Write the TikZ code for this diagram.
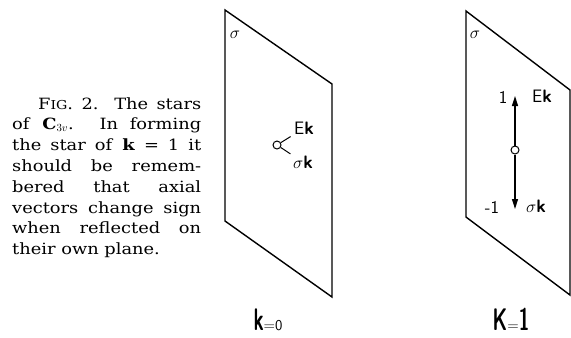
\documentclass[tikz,border=0pt]{standalone}
\usepackage{fontspec}
\usepackage{graphicx}
\newfontfamily\capfont[FakeStretch=1.15]{DejaVu Serif}
\usetikzlibrary{arrows.meta}
\begin{document}
\begin{tikzpicture}[x=1bp,y=-1bp,
  plane/.style={draw, line width=1.4bp, line join=miter},
  hand/.style={font=\sffamily\fontsize{18bp}{18bp}\selectfont, inner sep=0pt},
  sig/.style={font=\fontsize{17bp}{17bp}\selectfont, inner sep=0pt},
  origin/.style={draw, circle, line width=1bp, minimum size=8bp, inner sep=0pt, fill=white},
  vec/.style={line width=1.3bp, -{Triangle[length=10bp,width=6bp]}},
  tick/.style={line width=1bp},
  big/.style={inner sep=0pt, anchor=base}
]
\useasboundingbox (0,0) rectangle (571,337);
% caption
\node[anchor=base west, inner sep=0pt] (cap) at (12,109) {\parbox[t]{189bp}{\capfont\fontsize{15.5bp}{20.8bp}\selectfont\noindent\hspace*{26bp}F{\fontsize{12.3bp}{20.8bp}\selectfont IG}. 2. The stars\linebreak of \textbf{C}$_{3v}$. In forming\linebreak the star of \textbf{k} = 1 it\linebreak should be remem-\linebreak bered that axial\linebreak vectors change sign\linebreak when reflected on\linebreak their own plane.}};
% left plane
\draw[plane] (225,10) coordinate (pa1) -- (332,84) coordinate (pa2) -- (332,297) coordinate (pa3) -- (225,221) coordinate (pa4) -- cycle;
\node[sig] (s0) at (235,35) {$\sigma$};
\node[origin] (c0) at (277,145) {};
\node[hand] (ek0) at (304,128) {E\textbf{k}};
\node[hand] (sk0) at (303,162) {$\sigma$\textbf{k}};
\draw[tick, shorten >=4bp] (c0) -- (ek0.south west);
\draw[tick, shorten >=3bp] (c0) -- (sk0.north west);
\node[big] (lab0) at (268,330) {\sffamily{\fontsize{24bp}{24bp}\selectfont\scalebox{0.8}[1.3]{\bfseries k}}{\fontsize{15bp}{15bp}\selectfont =0}};
% right plane
\draw[plane] (466,11) coordinate (pb1) -- (570,90) coordinate (pb2) -- (570,295) coordinate (pb3) -- (466,217) coordinate (pb4) -- cycle;
\node[sig] (s1) at (475,35) {$\sigma$};
\node[origin] (c1) at (515,150) {};
\coordinate (up) at (515,96);
\coordinate (dn) at (515,209);
\draw[vec] (c1) -- (up);
\draw[vec] (c1) -- (dn);
\node[hand] (one) at (503,97) {1};
\node[hand] (ek1) at (542,96) {E\textbf{k}};
\node[hand] (mone) at (492,207) {-1};
\node[hand] (sk1) at (536,206) {$\sigma$\textbf{k}};
\node[big] (lab1) at (511,330) {\sffamily{\fontsize{24bp}{24bp}\selectfont\scalebox{0.8}[1.3]{\bfseries K}}{\fontsize{15bp}{15bp}\selectfont =}{\fontsize{24bp}{24bp}\selectfont\scalebox{0.8}[1.3]{\bfseries 1}}};
\end{tikzpicture}
\end{document}
